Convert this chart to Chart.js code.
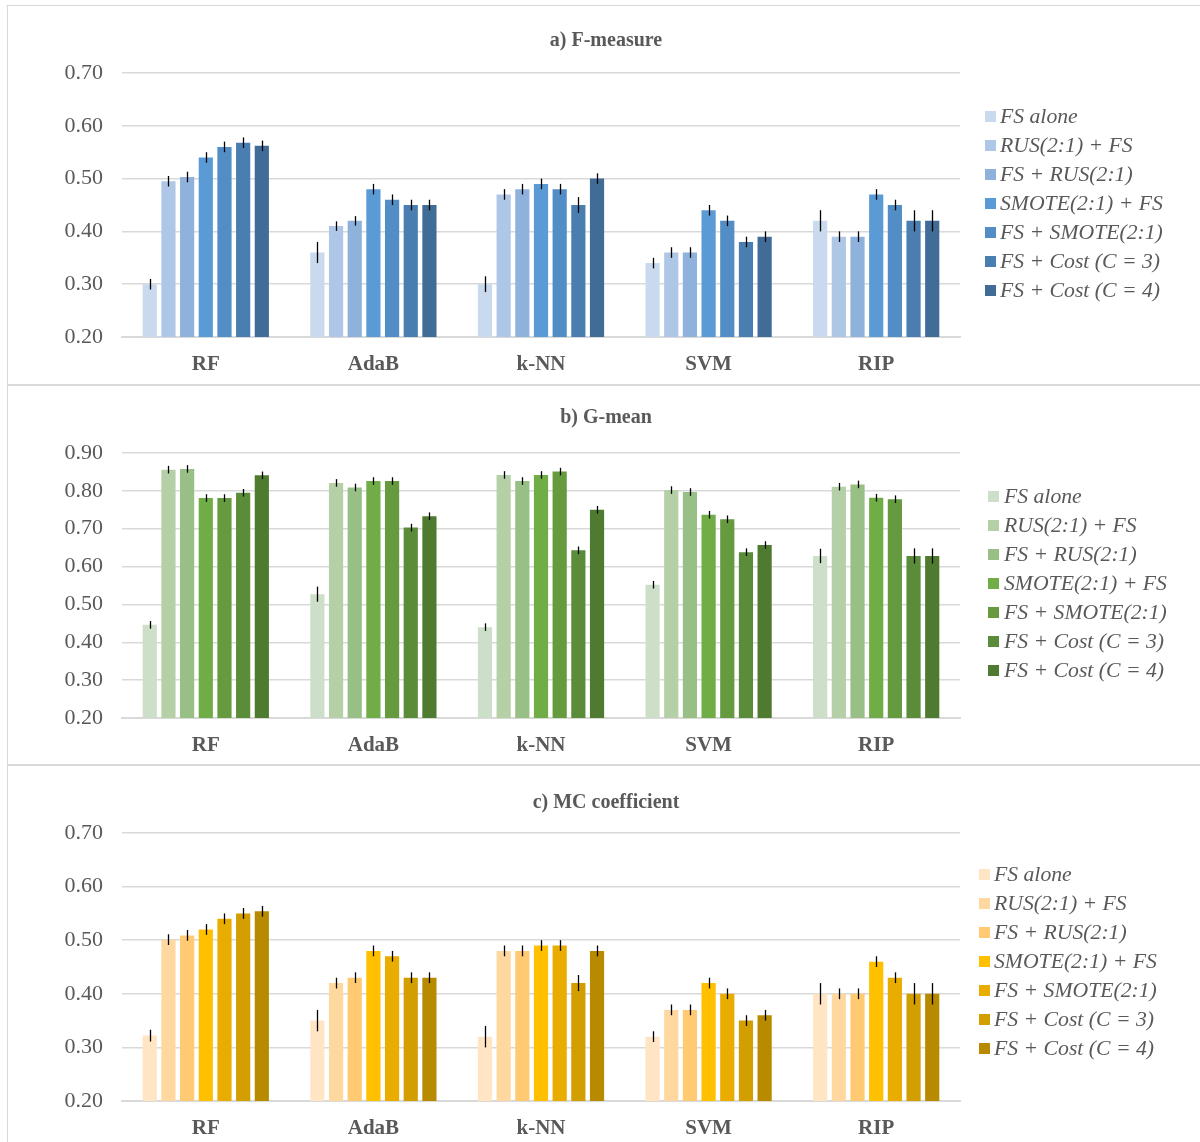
<!DOCTYPE html>
<html>
<head>
<meta charset="utf-8">
<title>FS with class-imbalance strategies</title>
<script src="https://cdn.jsdelivr.net/npm/chart.js@4/dist/chart.umd.min.js"></script>
<style>
  html, body { margin: 0; padding: 0; background: #ffffff; }
  body { position: relative; width: 1200px; height: 1142px; overflow: hidden; font-family: "Liberation Serif", "Times New Roman", serif; }
  .frame { position: absolute; background: #d9d9d9; }
  canvas.panel { position: absolute; }
  .ptitle { position: absolute; width: 400px; text-align: center; font-weight: bold; font-size: 20px; line-height: 24px; color: #595959; }
  .legend { position: absolute; }
  .legend .row { position: absolute; left: 0; height: 29px; white-space: nowrap; }
  .legend .sw { position: absolute; top: 9px; width: 11px; height: 11px; }
  .legend .txt { position: absolute; top: 0; font-style: italic; font-size: 21.7px; line-height: 29px; color: #595959; }
</style>
</head>
<body>
<!-- panel frames -->
<div class="frame" style="left:6px;top:5px;width:1194px;height:1px;"></div>
<div class="frame" style="left:7px;top:5px;width:1px;height:1137px;"></div>
<div class="frame" style="left:7px;top:384px;width:1193px;height:2px;"></div>
<div class="frame" style="left:7px;top:764px;width:1193px;height:2px;"></div>

<canvas id="chartF" class="panel" width="1193" height="378" style="left:8px;top:6px;"></canvas>
<canvas id="chartG" class="panel" width="1192" height="378" style="left:8px;top:386px;"></canvas>
<canvas id="chartM" class="panel" width="1192" height="376" style="left:8px;top:766px;"></canvas>

<script>
// Classifiers on the x axis
const categories = ['RF', 'AdaB', 'k-NN', 'SVM', 'RIP'];

// Pipelines (one bar per pipeline in every classifier group)
const seriesNames = [
  'FS alone',
  'RUS(2:1) + FS',
  'FS + RUS(2:1)',
  'SMOTE(2:1) + FS',
  'FS + SMOTE(2:1)',
  'FS + Cost (C = 3)',
  'FS + Cost (C = 4)'
];

// a) F-measure: one row per pipeline, columns follow `categories`
const fMeasure = [
  [0.300, 0.360, 0.300, 0.340, 0.420],
  [0.495, 0.410, 0.470, 0.360, 0.390],
  [0.503, 0.420, 0.480, 0.360, 0.390],
  [0.540, 0.480, 0.490, 0.440, 0.470],
  [0.560, 0.460, 0.480, 0.420, 0.450],
  [0.568, 0.450, 0.450, 0.380, 0.420],
  [0.562, 0.450, 0.500, 0.390, 0.420]
];
const fMeasureErr = [
  [0.010, 0.020, 0.015, 0.010, 0.020],
  [0.010, 0.009, 0.010, 0.010, 0.010],
  [0.010, 0.009, 0.010, 0.010, 0.010],
  [0.010, 0.010, 0.010, 0.010, 0.010],
  [0.010, 0.010, 0.010, 0.010, 0.010],
  [0.010, 0.010, 0.015, 0.010, 0.020],
  [0.010, 0.010, 0.010, 0.010, 0.020]
];

// b) G-mean
const gMean = [
  [0.446, 0.527, 0.440, 0.552, 0.628],
  [0.856, 0.821, 0.842, 0.802, 0.811],
  [0.858, 0.809, 0.826, 0.797, 0.817],
  [0.781, 0.826, 0.842, 0.737, 0.782],
  [0.781, 0.826, 0.851, 0.725, 0.778],
  [0.795, 0.703, 0.643, 0.638, 0.628],
  [0.841, 0.733, 0.750, 0.657, 0.628]
];
const gMeanErr = [
  [0.010, 0.020, 0.010, 0.010, 0.019],
  [0.010, 0.010, 0.010, 0.010, 0.010],
  [0.010, 0.010, 0.010, 0.010, 0.010],
  [0.010, 0.010, 0.010, 0.010, 0.010],
  [0.010, 0.010, 0.010, 0.010, 0.010],
  [0.010, 0.010, 0.010, 0.010, 0.020],
  [0.010, 0.010, 0.010, 0.010, 0.020]
];

// c) Matthews correlation coefficient
const mcc = [
  [0.322, 0.350, 0.320, 0.320, 0.400],
  [0.501, 0.420, 0.480, 0.370, 0.400],
  [0.509, 0.430, 0.480, 0.370, 0.400],
  [0.520, 0.480, 0.490, 0.420, 0.460],
  [0.540, 0.470, 0.490, 0.400, 0.430],
  [0.550, 0.430, 0.420, 0.350, 0.400],
  [0.554, 0.430, 0.480, 0.360, 0.400]
];
const mccErr = [
  [0.011, 0.020, 0.020, 0.010, 0.020],
  [0.010, 0.010, 0.010, 0.010, 0.010],
  [0.010, 0.010, 0.010, 0.010, 0.010],
  [0.010, 0.010, 0.010, 0.010, 0.010],
  [0.010, 0.010, 0.010, 0.010, 0.010],
  [0.010, 0.010, 0.015, 0.010, 0.020],
  [0.010, 0.010, 0.010, 0.010, 0.020]
];

// Axis ranges for the three panels
const fTicks = { min: 0.2, max: 0.7, step: 0.1 };
const gTicks = { min: 0.2, max: 0.9, step: 0.1 };
const mTicks = { min: 0.2, max: 0.7, step: 0.1 };

// Colour ramps, light to dark
const bluePalette  = ['#c9d9ee', '#afc7e6', '#8fb2dd', '#5b9bd5', '#528dc6', '#4a7eb0', '#416c97'];
const greenPalette = ['#cddfc8', '#b5d0a6', '#98bf85', '#70ad47', '#659a3f', '#5a8c39', '#4f7b30'];
const goldPalette  = ['#ffe5c3', '#ffd8a0', '#ffca72', '#ffc000', '#e8ad00', '#d29e00', '#b88a00'];

const TEXT = '#595959';
const GRID = '#d9d9d9';
const FONT = '"Liberation Serif", "Times New Roman", serif';

// Vertical error whiskers, placed through the chart's own scales
const errorBars = {
  id: 'errorBars',
  afterDatasetsDraw(chart) {
    const ctx = chart.ctx;
    const yScale = chart.scales.y;
    ctx.save();
    ctx.strokeStyle = '#000000';
    ctx.lineWidth = 1.3;
    chart.data.datasets.forEach((ds, i) => {
      const meta = chart.getDatasetMeta(i);
      if (meta.hidden) return;
      meta.data.forEach((bar, j) => {
        const v = ds.data[j];
        const e = ds.errors[j];
        const x = Math.round(bar.x) + 0.5;
        ctx.beginPath();
        ctx.moveTo(x, yScale.getPixelForValue(v + e));
        ctx.lineTo(x, yScale.getPixelForValue(v - e));
        ctx.stroke();
      });
    });
    ctx.restore();
  }
};

function buildPanel(canvasId, values, errors, palette, range, pad) {
  const datasets = seriesNames.map((name, i) => ({
    label: name,
    data: values[i],
    errors: errors[i],
    backgroundColor: palette[i],
    borderWidth: 0,
    categoryPercentage: 0.78,
    barPercentage: 0.76
  }));
  return new Chart(document.getElementById(canvasId), {
    type: 'bar',
    data: { labels: categories, datasets },
    plugins: [errorBars],
    options: {
      responsive: false,
      animation: false,
      devicePixelRatio: 1,
      layout: { padding: pad },
      plugins: {
        legend: { display: false },
        title: { display: false },
        tooltip: { enabled: false }
      },
      scales: {
        x: {
          grid: { display: false, drawTicks: false },
          border: { display: true, color: GRID, width: 2 },
          ticks: { color: TEXT, padding: 15, font: { family: FONT, size: 21, weight: 'bold' } },
          afterFit: s => { s.height = 40; }
        },
        y: {
          min: range.min,
          max: range.max,
          grid: { color: GRID, lineWidth: 1.5, drawTicks: false },
          border: { display: false },
          ticks: {
            stepSize: range.step,
            padding: 19,
            color: TEXT,
            font: { family: FONT, size: 22 },
            callback: v => Number(v).toFixed(2)
          },
          afterFit: s => { s.width = 114; }
        }
      }
    }
  });
}

function buildTitle(text, top) {
  const d = document.createElement('div');
  d.className = 'ptitle';
  d.style.left = (606 - 200) + 'px';
  d.style.top = top + 'px';
  d.textContent = text;
  document.body.appendChild(d);
}

function buildLegend(chart, left, firstCenter, textGap) {
  const box = document.createElement('div');
  box.className = 'legend';
  box.style.left = left + 'px';
  box.style.top = (firstCenter - 14.5) + 'px';
  chart.data.datasets.forEach((ds, i) => {
    const row = document.createElement('div');
    row.className = 'row';
    row.style.top = (i * 29) + 'px';
    const sw = document.createElement('span');
    sw.className = 'sw';
    sw.style.left = '0px';
    sw.style.background = ds.backgroundColor;
    const tx = document.createElement('span');
    tx.className = 'txt';
    tx.style.left = textGap + 'px';
    tx.textContent = ds.label;
    row.appendChild(sw);
    row.appendChild(tx);
    box.appendChild(row);
  });
  document.body.appendChild(box);
}

const chartF = buildPanel('chartF', fMeasure, fMeasureErr, bluePalette, fTicks, { left: 0, top: 67, right: 241, bottom: 7 });
const chartG = buildPanel('chartG', gMean, gMeanErr, greenPalette, gTicks, { left: 0, top: 67, right: 240, bottom: 6 });
const chartM = buildPanel('chartM', mcc, mccErr, goldPalette, mTicks, { left: 0, top: 67, right: 240, bottom: 1 });

buildTitle('a) F-measure', 27);
buildTitle('b) G-mean', 404);
buildTitle('c) MC coefficient', 789);

buildLegend(chartF, 985, 116, 15);
buildLegend(chartG, 988, 496, 16);
buildLegend(chartM, 979, 874, 15);
</script>
</body>
</html>
